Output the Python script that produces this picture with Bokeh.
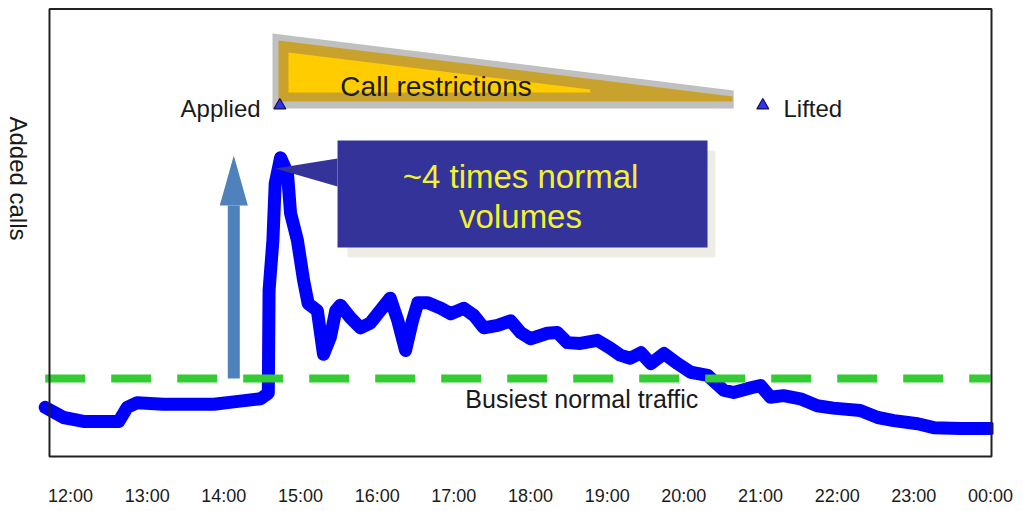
import math
from bokeh.plotting import figure
from bokeh.models import BoxAnnotation, ColumnDataSource, FixedTicker, Range1d
from bokeh.core.properties import value
from bokeh.embed import file_html
from bokeh.resources import INLINE

# ---- data (hours of day, added calls relative to busiest normal traffic) ----
HOURS = [11.67, 11.91, 12.17, 12.63, 12.74, 12.87, 13.21, 13.87, 14.13, 14.48,
         14.58, 14.59, 14.64, 14.67, 14.74, 14.83, 14.87, 14.96, 15.04, 15.10,
         15.22, 15.30, 15.39, 15.46, 15.52, 15.65, 15.78, 15.91, 16.17, 16.27,
         16.37, 16.46, 16.53, 16.66, 16.83, 16.96, 17.13, 17.26, 17.39, 17.57,
         17.74, 17.87, 18.00, 18.22, 18.35, 18.48, 18.65, 18.87, 19.04, 19.17,
         19.30, 19.44, 19.57, 19.74, 19.92, 20.09, 20.31, 20.52, 20.65, 20.83,
         21.00, 21.13, 21.30, 21.52, 21.74, 21.95, 22.30, 22.53, 22.74, 23.05,
         23.26, 23.61, 24.00]
ADDED_CALLS = [0.63, 0.50, 0.45, 0.45, 0.63, 0.69, 0.67, 0.67, 0.70, 0.74,
               0.81, 2.13, 2.77, 3.50, 3.83, 3.63, 3.12, 2.77, 2.26, 1.96,
               1.87, 1.31, 1.53, 1.87, 1.94, 1.78, 1.65, 1.71, 2.03, 1.74,
               1.36, 1.74, 1.97, 1.97, 1.90, 1.83, 1.90, 1.81, 1.65, 1.68,
               1.74, 1.59, 1.51, 1.58, 1.59, 1.46, 1.45, 1.49, 1.39, 1.30,
               1.26, 1.33, 1.19, 1.32, 1.19, 1.08, 1.04, 0.85, 0.82, 0.87,
               0.91, 0.76, 0.78, 0.74, 0.65, 0.62, 0.59, 0.50, 0.46, 0.42,
               0.37, 0.36, 0.36]
TICK_HOURS = [12, 13, 14, 15, 16, 17, 18, 19, 20, 21, 22, 23, 24]
TICK_LABELS = ["12:00", "13:00", "14:00", "15:00", "16:00", "17:00", "18:00",
               "19:00", "20:00", "21:00", "22:00", "23:00", "00:00"]
NORMAL_BUSIEST = 1.0
APPLIED_T = 14.73
LIFTED_T = 21.03
RESTRICTION_END_T = 20.65
SURGE_ARROW_T = 14.13
PEAK_T = 14.67
EVENT_LABELS = ["Applied", "Lifted"]
CALLOUT_LINES = ["~4 times normal", "volumes"]
Y_LABEL = "Added calls"
NORMAL_LABEL = "Busiest normal traffic"
RESTRICTION_LABEL = "Call restrictions"

# chart box (plot area border) in data units
BOX_LEFT, BOX_RIGHT, BOX_BOTTOM, BOX_TOP = 11.726, 24.013, 0.0, 5.737

FONT = "Liberation Sans"
TXT = "#1a1a1a"

p = figure(width=1026, height=511,
           x_range=Range1d(11.087, 24.039), y_range=Range1d(-0.0256, 5.756),
           output_backend="svg", toolbar_location=None,
           min_border_left=0, min_border_right=33, min_border_top=7,
           min_border_bottom=53, background_fill_color="white",
           border_fill_color="white")
p.grid.visible = False
p.yaxis.visible = False
p.outline_line_color = None

ax = p.xaxis[0]
ax.ticker = FixedTicker(ticks=TICK_HOURS)
ax.major_label_overrides = {h: lab for h, lab in zip(TICK_HOURS, TICK_LABELS)}
ax.axis_line_color = None
ax.major_tick_line_color = None
ax.minor_tick_line_color = None
ax.major_label_text_font = FONT
ax.major_label_text_font_size = "18px"
ax.major_label_text_color = TXT
ax.major_label_standoff = 21

p.add_layout(BoxAnnotation(left=BOX_LEFT, right=BOX_RIGHT, bottom=BOX_BOTTOM, top=BOX_TOP,
                           fill_alpha=0, line_color="#222222", line_alpha=1.0,
                           line_width=2))

# ---- call restrictions wedge (layered) ----
p.patch(x=[APPLIED_T - 0.095, RESTRICTION_END_T, RESTRICTION_END_T, APPLIED_T - 0.095],
        y=[5.423, 4.692, 4.462, 4.462], fill_color="#C0C0C0", line_color=None)
p.patch(x=[APPLIED_T - 0.017, RESTRICTION_END_T - 0.013, RESTRICTION_END_T - 0.013, APPLIED_T - 0.017],
        y=[5.333, 4.615, 4.551, 4.551], fill_color="#C8A22C", line_color=None)
p.patch(x=[APPLIED_T + 0.113, 18.78, 18.78, APPLIED_T + 0.113],
        y=[5.179, 4.705, 4.667, 4.667], fill_color="#FFCC00", line_color=None)

# ---- surge arrow ----
p.segment(x0=[SURGE_ARROW_T], y0=[NORMAL_BUSIEST], x1=[SURGE_ARROW_T], y1=[3.218],
          line_width=12, line_color="#4F81BD")
p.patch(x=[SURGE_ARROW_T - 0.183, SURGE_ARROW_T, SURGE_ARROW_T + 0.183],
        y=[3.218, 3.859, 3.218], fill_color="#4F81BD", line_color=None)

# ---- traffic line ----
src = ColumnDataSource(dict(hours=HOURS, calls=ADDED_CALLS))
p.line("hours", "calls", source=src, line_width=13, line_color="#0000FF",
       line_join="round", line_cap="round")

# ---- busiest normal traffic ----
p.line(x=[HOURS[0], HOURS[-1]], y=[NORMAL_BUSIEST, NORMAL_BUSIEST],
       line_width=8, line_color="#33CC33", line_dash="40 26")

# ---- callout ----
p.quad(left=[15.613], right=[20.413], top=[3.923], bottom=[2.551],
       fill_color="#EDEDE6", line_color=None)
p.quad(left=[15.483], right=[20.309], top=[4.051], bottom=[2.679],
       fill_color="#333399", line_color=None)
p.patch(x=[15.483, PEAK_T, 15.483], y=[3.821, 3.692, 3.462],
        fill_color="#333399", line_color=None)
p.text(x=[17.87, 17.87], y=[3.59, 3.083], text=CALLOUT_LINES,
       text_align="center", text_baseline="middle",
       text_font=value(FONT), text_font_size="33px", text_color="#F2F22E")

# ---- event markers and labels ----
p.scatter(x=[APPLIED_T, LIFTED_T], y=[4.5, 4.5], marker="triangle", size=12,
          fill_color="#3333EE", line_color="#101050", line_width=1.2)
p.text(x=[APPLIED_T - 0.25], y=[4.462], text=[EVENT_LABELS[0]], text_align="right",
       text_baseline="middle", text_font=value(FONT), text_font_size="24px", text_color=TXT)
p.text(x=[LIFTED_T + 0.27], y=[4.462], text=[EVENT_LABELS[1]], text_align="left",
       text_baseline="middle", text_font=value(FONT), text_font_size="24px", text_color=TXT)
p.text(x=[15.52], y=[4.744], text=[RESTRICTION_LABEL], text_align="left",
       text_baseline="middle", text_font=value(FONT), text_font_size="28px", text_color=TXT)
p.text(x=[17.15], y=[0.731], text=[NORMAL_LABEL], text_align="left",
       text_baseline="middle", text_font=value(FONT), text_font_size="25px", text_color=TXT)

# ---- y axis title (reads top to bottom) ----
p.text(x=[11.322], y=[3.564], text=[Y_LABEL], angle=-math.pi / 2,
       text_align="center", text_baseline="middle",
       text_font=value(FONT), text_font_size="24px", text_color=TXT)

open("out.html", "w").write(file_html(p, INLINE))
